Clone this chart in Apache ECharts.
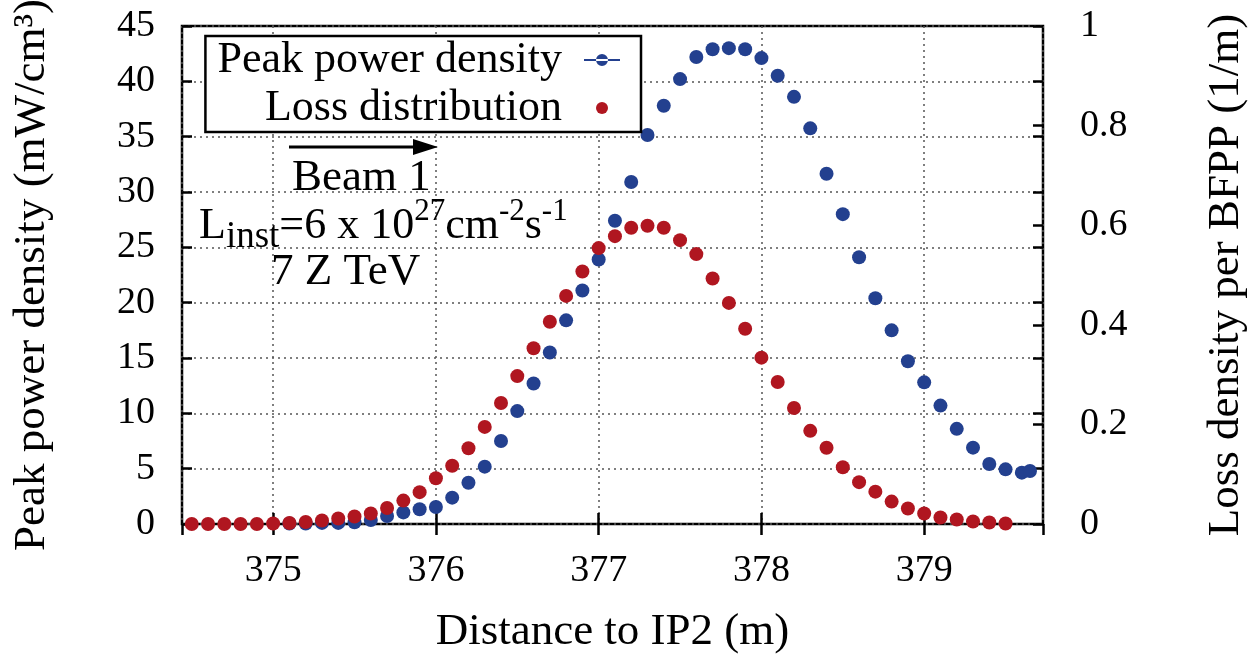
<!DOCTYPE html>
<html>
<head>
<meta charset="utf-8">
<script src="https://cdn.jsdelivr.net/npm/echarts@6/dist/echarts.min.js"></script>
<style>
html,body{margin:0;padding:0;background:#fff;}
#chart{width:1249px;height:656px;}
</style>
</head>
<body>
<div id="chart"></div>
<script>
// ---- data ----
const peakX = [375.1,375.2,375.3,375.4,375.5,375.6,375.7,375.8,375.9,376.0,
  376.1,376.2,376.3,376.4,376.5,376.6,376.7,376.8,376.9,377.0,
  377.1,377.2,377.3,377.4,377.5,377.6,377.7,377.8,377.9,378.0,
  378.1,378.2,378.3,378.4,378.5,378.6,378.7,378.8,378.9,379.0,
  379.1,379.2,379.3,379.4,379.5,379.6,379.65];
const peakPower = [0.05,0.05,0.1,0.1,0.15,0.36,0.72,1.05,1.33,1.54,
  2.38,3.73,5.18,7.5,10.2,12.7,15.5,18.4,21.1,23.9,
  27.4,30.9,35.15,37.8,40.2,42.2,42.9,43.0,42.9,42.1,
  40.5,38.6,35.75,31.65,28.0,24.1,20.4,17.5,14.7,12.8,
  10.7,8.6,6.9,5.42,4.94,4.64,4.79];
const lossX = [374.5,374.6,374.7,374.8,374.9,375.0,375.1,375.2,375.3,375.4,
  375.5,375.6,375.7,375.8,375.9,376.0,376.1,376.2,376.3,376.4,
  376.5,376.6,376.7,376.8,376.9,377.0,377.1,377.2,377.3,377.4,
  377.5,377.6,377.7,377.8,377.9,378.0,378.1,378.2,378.3,378.4,
  378.5,378.6,378.7,378.8,378.9,379.0,379.1,379.2,379.3,379.4,379.5];
const lossDensity = [0,0,0,0,0,0.001,0.002,0.004,0.007,0.011,
  0.015,0.021,0.032,0.047,0.064,0.092,0.117,0.152,0.195,0.243,
  0.297,0.353,0.406,0.458,0.507,0.554,0.578,0.595,0.599,0.595,
  0.570,0.542,0.493,0.444,0.392,0.334,0.285,0.233,0.187,0.153,
  0.114,0.084,0.065,0.045,0.031,0.021,0.013,0.009,0.005,0.003,0.001];
const seriesNames = ['Peak power density', 'Loss distribution'];
const xTitle = 'Distance to IP2 (m)';
const yLeftTitle = 'Peak power density (mW/cm\u00B3)';
const yRightTitle = 'Loss density per BFPP (1/m)';

const BLUE = '#23408f', RED = '#b01620';
const FONT = 'Liberation Serif';

const chart = echarts.init(document.getElementById('chart'));
const gridLine = {show:true, lineStyle:{color:'#555', type:[2,4], width:1.5}};
const option = {
  animation:false,
  backgroundColor:'#fff',
  textStyle:{fontFamily:FONT, color:'#000'},
  grid:{left:182, right:206, top:26, bottom:132, show:true, borderColor:'#000', borderWidth:2.5,
        backgroundColor:'transparent', outerBoundsMode:'none', containLabel:false},
  legend:{
    orient:'vertical', right:608, top:36, align:'right',
    backgroundColor:'#fff', borderColor:'#000', borderWidth:2.5,
    padding:[2,21,2,12], itemWidth:36, itemHeight:12, itemGap:4,
    selectedMode:false,
    textStyle:{fontFamily:FONT, fontSize:44, color:'#000', lineHeight:41, padding:[0,17,0,0]},
    data:[
      {name:seriesNames[0], icon:'path://M0,5h36v2H0z M12,6a6,6 0 1,0 12,0a6,6 0 1,0 -12,0z'},
      {name:seriesNames[1], icon:'circle'}
    ]
  },
  xAxis:[{
    type:'value', min:374.44, max:379.73, splitNumber:5,
    name:xTitle, nameLocation:'middle', nameGap:86,
    nameTextStyle:{fontFamily:FONT, fontSize:45, color:'#000'},
    axisLine:{show:false},
    axisTick:{show:true, inside:true, length:11, lineStyle:{color:'#000', width:2.5}},
    axisLabel:{fontFamily:FONT, fontSize:38, color:'#000', margin:28, showMinLabel:false, showMaxLabel:false},
    splitLine:gridLine
  },{
    type:'value', position:'top', min:374.44, max:379.73, splitNumber:5,
    axisLine:{show:false},
    axisTick:{show:true, inside:true, length:11, lineStyle:{color:'#000', width:2.5}},
    axisLabel:{show:false}, splitLine:{show:false}
  }],
  yAxis:[{
    type:'value', min:0, max:45, interval:5, position:'left',
    name:yLeftTitle, nameLocation:'middle', nameGap:127, nameRotate:90,
    nameTextStyle:{fontFamily:FONT, fontSize:45, color:'#000'},
    axisLine:{show:false},
    axisTick:{show:true, inside:true, length:10, lineStyle:{color:'#000', width:2.5}},
    axisLabel:{fontFamily:FONT, fontSize:38, color:'#000', margin:27},
    splitLine:gridLine
  },{
    type:'value', min:0, max:1, interval:0.2, position:'right',
    name:yRightTitle, nameLocation:'middle', nameGap:161, nameRotate:90,
    nameTextStyle:{fontFamily:FONT, fontSize:45, color:'#000'},
    axisLine:{show:false},
    axisTick:{show:true, inside:true, length:10, lineStyle:{color:'#000', width:2.5}},
    axisLabel:{fontFamily:FONT, fontSize:38, color:'#000', margin:37},
    splitLine:{show:false}
  },{
    type:'value', min:0, max:45, interval:5, position:'right',
    axisLine:{show:false},
    axisTick:{show:true, inside:true, length:10, lineStyle:{color:'#000', width:2.5}},
    axisLabel:{show:false}, splitLine:{show:false}
  }],
  series:[{
    name:seriesNames[0], type:'scatter', xAxisIndex:0, yAxisIndex:0,
    symbol:'circle', symbolSize:14, itemStyle:{color:BLUE, opacity:1},
    data:peakX.map((x,i)=>[x, peakPower[i]])
  },{
    name:seriesNames[1], type:'scatter', xAxisIndex:0, yAxisIndex:1,
    symbol:'circle', symbolSize:14, itemStyle:{color:RED, opacity:1},
    data:lossX.map((x,i)=>[x, lossDensity[i]])
  }],
  graphic:[
    {type:'line', shape:{x1:289, y1:147, x2:418, y2:147}, style:{stroke:'#000', lineWidth:3}, z:50},
    {type:'polygon', shape:{points:[[413,139],[438,147],[413,155]]}, style:{fill:'#000'}, z:50},
    {type:'text', left:292, top:156, style:{text:'Beam 1', font:'45px "Liberation Serif"', fill:'#000'}, z:50},
    {type:'text', x:199, y:226, style:{
      text:'{a|L}{sub|inst}{a|=6 x 10}{sup|27}{a|cm}{sup|-2}{a|s}{sup|-1}',
      verticalAlign:'middle', align:'left',
      rich:{
        a:{fontFamily:FONT, fontSize:44, lineHeight:60, verticalAlign:'middle', fill:'#000'},
        sub:{fontFamily:FONT, fontSize:37, lineHeight:14, verticalAlign:'bottom', fill:'#000'},
        sup:{fontFamily:FONT, fontSize:31, lineHeight:20, verticalAlign:'top', fill:'#000'}
      }
    }, z:50},
    {type:'text', left:271, top:250, style:{text:'7 Z TeV', font:'45px "Liberation Serif"', fill:'#000'}, z:50}
  ]
};
chart.setOption(option);
</script>
</body>
</html>
